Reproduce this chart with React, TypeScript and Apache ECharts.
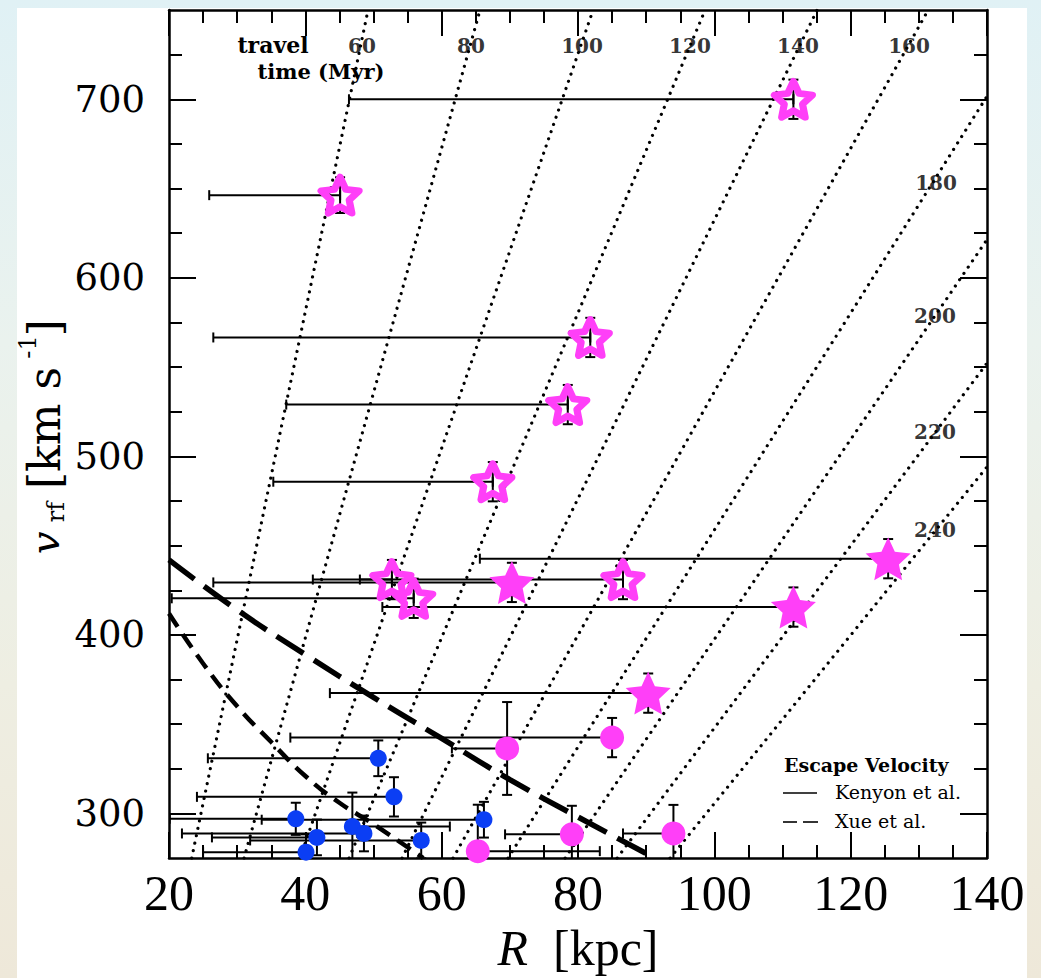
import React, { useEffect, useRef } from "react";
import * as echarts from "echarts";

// ---------------- data ----------------
// axes
const xMin = 20;
const xMax = 140;
const xStep = 20;
const yMin = 275;
const yMax = 750;
const yMajorTicks = [300, 400, 500, 600, 700];
const yMinorTicks = [325, 350, 375, 425, 450, 475, 525, 550, 575, 625, 650, 675, 725];

// travel-time lines (Myr): end points in (R kpc, v km/s)
const travelTimes = [60, 80, 100, 120, 140, 160, 180, 200, 220, 240];
const travelStartR = [23.33, 31.01, 39.22, 46.41, 54.19, 61.67, 69.74, 78.11, 85.74, 93.51];
const travelStartV = [275, 275, 275, 275, 275, 275, 275, 275, 275, 275];
const travelEndR = [49.2, 65.63, 82.22, 98.65, 115.08, 131.37, 140, 140, 140, 140];
const travelEndV = [750, 750, 750, 750, 750, 750, 701.7, 621.4, 552.2, 494.1];
const travelLabelR = [48.31, 64.3, 80.59, 96.43, 112.27, 128.56, 132.52, 132.37, 132.37, 132.37];
const travelLabelV = [729.8, 729.8, 729.8, 729.8, 729.8, 729.8, 653.3, 578.8, 513.6, 458.9];

// escape velocity curves
const kenyonR = [20, 30, 40, 50, 60, 70, 80, 91.3];
const kenyonV = [442, 414, 389, 365, 342, 319, 298, 275];
const xueR = [20, 25, 30, 35, 40, 45, 50, 57.3];
const xueV = [412, 384, 360, 340, 321, 306, 294, 275];

// open stars
const openStarR = [111.6, 45.1, 81.8, 78.5, 67.5, 52.7, 55.9, 86.6];
const openStarV = [700.0, 646.3, 566.6, 529.0, 485.8, 431.0, 420.5, 431.0];
const openStarRLow = [46.4, 25.9, 26.5, 37.2, 35.3, 48.0, 20.4, 41.1];
const openStarRHigh = [111.6, 45.1, 81.8, 78.5, 67.5, 52.7, 55.9, 86.6];
const openStarVErr = [11, 10, 11, 11, 11, 11, 11, 11];

// filled stars
const fillStarR = [70.3, 111.6, 90.3, 125.5];
const fillStarV = [429.4, 415.6, 367.4, 442.7];
const fillStarRLow = [26.5, 51.3, 43.6, 65.6];
const fillStarRHigh = [70.3, 111.6, 90.3, 125.5];
const fillStarVErr = [11, 11, 11, 11];

// magenta circles
const pinkR = [85.0, 69.6, 79.1, 65.3, 94.0];
const pinkV = [342.5, 336.4, 288.3, 278.9, 288.8];
const pinkRLow = [37.8, 61.5, 69.3, 65.3, 86.6];
const pinkRHigh = [85.0, 69.6, 79.1, 83.2, 94.0];
const pinkVErr = [11, 26, 16, 26, 16];

// blue circles
const blueR = [50.7, 53.0, 38.6, 66.2, 41.7, 46.9, 48.6, 57.0, 40.1];
const blueV = [330.9, 309.3, 297.0, 296.5, 286.6, 292.7, 288.8, 284.9, 278.3];
const blueRLow = [25.7, 24.1, 20.1, 33.6, 26.3, 46.9, 21.9, 31.9, 25.0];
const blueRHigh = [50.7, 53.0, 38.6, 66.2, 41.7, 61.2, 48.6, 57.0, 40.1];
const blueVErr = [10, 11, 9, 10, 10, 19, 10, 10, 10];

// ---------------- styling ----------------
const MAGENTA = "#ff3ff8";
const BLUE = "#0b3ef4";
const BLACK = "#000";

const starPath = (() => {
  const pts: string[] = [];
  for (let i = 0; i < 10; i++) {
    const a = -Math.PI / 2 + (i * Math.PI) / 5;
    const r = i % 2 === 0 ? 50 : 24;
    pts.push(`${(50 + r * Math.cos(a)).toFixed(2)} ${(50 + r * Math.sin(a)).toFixed(2)}`);
  }
  return "path://M" + pts.join(" L") + " Z";
})();

function zipPts(a: number[], b: number[]) {
  return a.map((v, i) => [v, b[i]]);
}

function errRows(r: number[], v: number[], lo: number[], hi: number[], e: number[]) {
  return r.map((rv, i) => [rv, v[i], lo[i], hi[i], e[i]]);
}

function buildOption() {
  const tickStyle = { color: BLACK, width: 2 };
  const lineStyleAxis = { color: BLACK, width: 2.5 };

  const xAxisCommon = {
    type: "value",
    min: xMin,
    max: xMax,
    interval: xStep,
    splitLine: { show: false },
    minorSplitLine: { show: false },
    axisLine: { show: true, onZero: false, lineStyle: lineStyleAxis },
    axisTick: { show: true, inside: true, length: 26, lineStyle: tickStyle },
    minorTick: { show: true, splitNumber: 4, length: 13, lineStyle: tickStyle },
  };

  const yMajor = (pos: string, labels: boolean) => ({
    type: "value",
    position: pos,
    min: yMin,
    max: yMax,
    interval: 25,
    splitLine: { show: false },
    axisLine: { show: true, onZero: false, lineStyle: lineStyleAxis },
    axisTick: { show: true, inside: true, length: 27, lineStyle: tickStyle, customValues: yMajorTicks },
    axisLabel: labels
      ? {
          show: true,
          customValues: yMajorTicks,
          formatter: (v: number) => (v % 100 === 0 ? String(v) : ""),
          fontFamily: "DejaVu Serif",
          fontSize: 37,
          color: BLACK,
          margin: 24,
        }
      : { show: false },
  });
  const yMinor = (pos: string) => ({
    type: "value",
    position: pos,
    min: yMin,
    max: yMax,
    interval: 25,
    splitLine: { show: false },
    axisLine: { show: false, onZero: false },
    axisTick: { show: true, inside: true, length: 13, lineStyle: tickStyle, customValues: yMinorTicks },
    axisLabel: { show: false },
  });

  const series: any[] = [];

  // travel time labels (beneath lines)
  series.push({
    type: "scatter",
    name: "ttlabels",
    symbol: "circle",
    symbolSize: 1,
    itemStyle: { color: "rgba(0,0,0,0)" },
    z: 1,
    silent: true,
    clip: false,
    data: travelTimes.map((t, i) => ({ name: String(t), value: [travelLabelR[i], travelLabelV[i]] })),
    label: {
      show: true,
      position: "inside",
      formatter: "{b}",
      fontFamily: "DejaVu Serif",
      fontWeight: "bold",
      fontSize: 20,
      color: BLACK,
    },
  });

  // travel time dotted lines
  travelTimes.forEach((t, i) => {
    series.push({
      type: "line",
      name: "t" + t,
      data: [
        [travelStartR[i], travelStartV[i]],
        [travelEndR[i], travelEndV[i]],
      ],
      symbol: "none",
      silent: true,
      z: 2,
      lineStyle: { color: BLACK, width: 3.2, type: [0.01, 7.6], cap: "round" },
    });
  });

  // escape velocity curves
  series.push({
    type: "line",
    name: "Kenyon",
    data: zipPts(kenyonR, kenyonV),
    smooth: true,
    symbol: "none",
    silent: true,
    z: 3,
    lineStyle: { color: BLACK, width: 5.5, type: [32, 12], cap: "butt" },
  });
  series.push({
    type: "line",
    name: "Xue",
    data: zipPts(xueR, xueV),
    smooth: true,
    symbol: "none",
    silent: true,
    z: 3,
    lineStyle: { color: BLACK, width: 4.5, type: [16, 9], cap: "butt" },
  });

  // error bars
  const errData = [
    ...errRows(openStarR, openStarV, openStarRLow, openStarRHigh, openStarVErr),
    ...errRows(fillStarR, fillStarV, fillStarRLow, fillStarRHigh, fillStarVErr),
    ...errRows(pinkR, pinkV, pinkRLow, pinkRHigh, pinkVErr),
    ...errRows(blueR, blueV, blueRLow, blueRHigh, blueVErr),
  ];
  series.push({
    type: "custom",
    name: "errors",
    clip: true,
    silent: true,
    z: 4,
    data: errData,
    renderItem: (params: any, api: any) => {
      const r = api.value(0);
      const v = api.value(1);
      const lo = api.value(2);
      const hi = api.value(3);
      const e = api.value(4);
      const pL = api.coord([lo, v]);
      const pH = api.coord([hi, v]);
      const pT = api.coord([r, v + e]);
      const pB = api.coord([r, v - e]);
      const c = 5;
      const style = { stroke: BLACK, lineWidth: 2 };
      const ln = (x1: number, y1: number, x2: number, y2: number) => ({
        type: "line",
        shape: { x1, y1, x2, y2 },
        style,
      });
      return {
        type: "group",
        children: [
          ln(pL[0], pL[1], pH[0], pH[1]),
          ln(pL[0], pL[1] - c, pL[0], pL[1] + c),
          ln(pH[0], pH[1] - c, pH[0], pH[1] + c),
          ln(pT[0], pT[1], pB[0], pB[1]),
          ln(pT[0] - c, pT[1], pT[0] + c, pT[1]),
          ln(pB[0] - c, pB[1], pB[0] + c, pB[1]),
        ],
      };
    },
  });

  // markers
  series.push({
    type: "scatter",
    name: "blue",
    data: zipPts(blueR, blueV),
    symbol: "circle",
    symbolSize: 17,
    clip: false,
    z: 5,
    itemStyle: { color: BLUE, opacity: 1 },
  });
  series.push({
    type: "scatter",
    name: "pink",
    data: zipPts(pinkR, pinkV),
    symbol: "circle",
    symbolSize: 24,
    clip: false,
    z: 5,
    itemStyle: { color: MAGENTA, opacity: 1 },
  });
  series.push({
    type: "scatter",
    name: "filledStars",
    data: zipPts(fillStarR, fillStarV),
    symbol: starPath,
    symbolSize: [45, 43],
    clip: false,
    z: 5,
    itemStyle: { color: MAGENTA, opacity: 1 },
  });
  series.push({
    type: "scatter",
    name: "openStars",
    data: zipPts(openStarR, openStarV),
    symbol: starPath,
    symbolSize: [38, 36],
    clip: false,
    z: 6,
    itemStyle: {
      color: "rgba(255,255,255,0)",
      borderColor: MAGENTA,
      borderWidth: 7,
      borderJoin: "round",
      opacity: 1,
    },
  });

  const ttFont = { fontFamily: "DejaVu Serif", fontWeight: "bold", fill: BLACK };
  const legFont = { fontFamily: "DejaVu Serif", fill: BLACK };
  const rot = Math.PI / 2;
  const yTitleFont = { fontFamily: "DejaVu Serif", fill: BLACK };

  const graphic = [
    // travel time header
    { type: "text", x: 273, y: 45, style: { ...ttFont, text: "travel", fontSize: 22, align: "center", verticalAlign: "middle" } },
    { type: "text", x: 321, y: 71, style: { ...ttFont, text: "time (Myr)", fontSize: 21, align: "center", verticalAlign: "middle" } },
    // legend
    { type: "text", x: 784, y: 765, style: { ...legFont, fontWeight: "bold", text: "Escape Velocity", fontSize: 19, align: "left", verticalAlign: "middle" } },
    { type: "line", shape: { x1: 783, y1: 793, x2: 817, y2: 793 }, style: { stroke: BLACK, lineWidth: 1.6 } },
    { type: "text", x: 835, y: 792, style: { ...legFont, text: "Kenyon et al.", fontSize: 19, align: "left", verticalAlign: "middle" } },
    { type: "line", shape: { x1: 783, y1: 822, x2: 797, y2: 822 }, style: { stroke: BLACK, lineWidth: 1.6 } },
    { type: "line", shape: { x1: 803, y1: 822, x2: 818, y2: 822 }, style: { stroke: BLACK, lineWidth: 1.6 } },
    { type: "text", x: 835, y: 821, style: { ...legFont, text: "Xue et al.", fontSize: 19, align: "left", verticalAlign: "middle" } },
    // y axis title, rotated pieces
    { type: "text", x: 45, y: 543, rotation: rot, style: { ...yTitleFont, text: "v", fontStyle: "italic", fontSize: 40, align: "center", verticalAlign: "middle" } },
    { type: "text", x: 56, y: 512, rotation: rot, style: { ...yTitleFont, text: "rf", fontSize: 24, align: "center", verticalAlign: "middle" } },
    { type: "text", x: 44, y: 428, rotation: rot, style: { ...yTitleFont, text: "[km s", fontSize: 44, align: "center", verticalAlign: "middle" } },
    { type: "text", x: 28, y: 347, rotation: rot, style: { ...yTitleFont, text: "-1", fontSize: 24, align: "center", verticalAlign: "middle" } },
    { type: "text", x: 44, y: 328, rotation: rot, style: { ...yTitleFont, text: "]", fontSize: 44, align: "center", verticalAlign: "middle" } },
  ];

  return {
    animation: false,
    backgroundColor: "transparent",
    grid: { left: 169, right: 54, top: 10, bottom: 108, containLabel: false, show: false },
    xAxis: [
      {
        ...xAxisCommon,
        position: "bottom",
        axisLabel: { show: true, fontFamily: "Liberation Serif", fontSize: 50, color: BLACK, margin: 10 },
        name: "{it|R}  [kpc]",
        nameLocation: "middle",
        nameGap: 58,
        nameTextStyle: {
          fontFamily: "Liberation Serif",
          fontSize: 50,
          color: BLACK,
          rich: { it: { fontFamily: "Liberation Serif", fontStyle: "italic", fontSize: 50, color: BLACK } },
        },
      },
      { ...xAxisCommon, position: "top", axisLabel: { show: false } },
    ],
    yAxis: [yMajor("left", true), yMinor("left"), yMajor("right", false), yMinor("right")],
    series,
    graphic,
  };
}

export default function App() {
  const ref = useRef<HTMLDivElement>(null);
  useEffect(() => {
    document.body.style.margin = "0";
    document.body.style.overflow = "hidden";
    if (!ref.current) return;
    const chart = echarts.init(ref.current, undefined, { renderer: "svg" });
    chart.setOption(buildOption() as any);
    return () => chart.dispose();
  }, []);
  return (
    <div
      style={{
        position: "absolute",
        left: 0,
        top: 0,
        width: 1041,
        height: 978,
        background: "linear-gradient(180deg, #e0f1f5 0%, #eaf2ee 35%, #eeeee2 70%, #eee8d9 100%)",
      }}
    >
      <div style={{ position: "absolute", left: 17, top: 8, width: 1010, height: 970, background: "#fff" }} />
      <div ref={ref} style={{ position: "absolute", left: 0, top: 0, width: 1041, height: 978 }} />
    </div>
  );
}
